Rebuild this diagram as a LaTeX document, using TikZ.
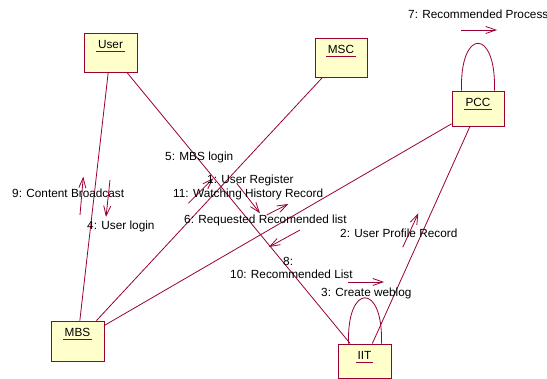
\documentclass[tikz,border=0pt]{standalone}
\usepackage{fontspec}
\setmainfont{Liberation Sans}
\usetikzlibrary{arrows.meta,calc}
\definecolor{linkred}{RGB}{153,0,51}
\definecolor{objfill}{RGB}{255,255,204}
\newcommand{\labfont}{\fontsize{11.8pt}{14pt}\selectfont}
\tikzset{
  obj/.style={draw=linkred, fill=objfill, line width=0.9pt, inner sep=0pt, anchor=center},
  objname/.style={font=\labfont, inner sep=1.5pt, anchor=base},
  link/.style={draw=linkred, line width=0.8pt},
  msg/.style={draw=linkred, line width=0.8pt, -{Straight Barb[length=10pt,width=7pt]}},
  msglabel/.style={font=\labfont, inner sep=0pt, anchor=base west},
}
\begin{document}
\begin{tikzpicture}[x=1pt,y=-1pt]
  \fill[white] (0,0) rectangle (547,379);
  \useasboundingbox (0,0) rectangle (547,379);

  % objects
  \node[obj, minimum width=53pt, minimum height=39pt] (user) at (110.5,52.5) {};
  \node[obj, minimum width=52pt, minimum height=39pt] (msc)  at (341,57.5) {};
  \node[obj, minimum width=52pt, minimum height=35pt] (pcc)  at (478,108.5) {};
  \node[obj, minimum width=53pt, minimum height=40pt] (mbs)  at (77.5,341) {};
  \node[obj, minimum width=53pt, minimum height=34pt] (iit)  at (364.5,361) {};

  % object names, underlined
  \foreach \o/\t in {user/User, msc/MSC, pcc/PCC, mbs/MBS, iit/IIT}{
    \node[objname] (\o txt) at ($(\o.north)+(0,16.3)$) {\t};
    \draw[link] ($(\o txt.base west)+(0,3)$) -- ($(\o txt.base east)+(0,3)$);
  }

  % links between objects
  \draw[link] (user) -- (mbs);
  \draw[link] (user) -- (iit);
  \draw[link] (msc) -- (mbs);
  \draw[link] (pcc) -- (mbs);
  \draw[link] (pcc) -- (iit);

  % self links
  \coordinate (pccL) at ($(pcc.north west)+(10,0)$);
  \coordinate (pccR) at ($(pcc.north east)+(-10,0)$);
  \draw[link] (pccL) .. controls +(-2,-63) and +(2,-63) .. (pccR);
  \coordinate (iitL) at ($(iit.north west)+(11,0)$);
  \coordinate (iitR) at ($(iit.north east)+(-10,0)$);
  \draw[link] (iitL) .. controls +(-2,-61) and +(2,-61) .. (iitR);

  % message arrows
  \coordinate (a7s) at (461,30);      \coordinate (a7e) at (497,30);
  \coordinate (a3s) at (348,282);     \coordinate (a3e) at (384,282);
  \coordinate (a9s) at (80,215);      \coordinate (a9e) at (83.3,176.7);
  \coordinate (a4s) at (110,180);     \coordinate (a4e) at (106,217);
  \coordinate (a5s) at (188.3,203.3); \coordinate (a5e) at (213.3,178.3);
  \coordinate (a1s) at (236.7,183.3); \coordinate (a1e) at (260,213.3);
  \coordinate (a6s) at (266.7,215);   \coordinate (a6e) at (288.3,204);
  \coordinate (a8s) at (300,230);     \coordinate (a8e) at (269,247);
  \coordinate (a2s) at (402.7,247.3); \coordinate (a2e) at (418.3,213.3);
  \foreach \a in {7,3,9,4,5,1,6,8,2}{
    \draw[msg] (a\a s) -- (a\a e);
  }

  % message labels
  \node[msglabel] (l7)  at (408,19)  {7: Recommended Process};
  \node[msglabel] (l5)  at (165,161) {5: MBS login};
  \node[msglabel] (l1)  at (207,184) {1: User Register};
  \node[msglabel] (l11) at (173,198) {11: Watching History Record};
  \node[msglabel] (l6)  at (184,224) {6: Requested Recomended list};
  \node[msglabel] (l9)  at (12,198)  {9: Content Broadcast};
  \node[msglabel] (l4)  at (87,230)  {4: User login};
  \node[msglabel] (l2)  at (340,238) {2: User Profile Record};
  \node[msglabel] (l8)  at (283,266) {8:};
  \node[msglabel] (l10) at (230,279) {10: Recommended List};
  \node[msglabel] (l3)  at (321,297) {3: Create weblog};
\end{tikzpicture}
\end{document}
